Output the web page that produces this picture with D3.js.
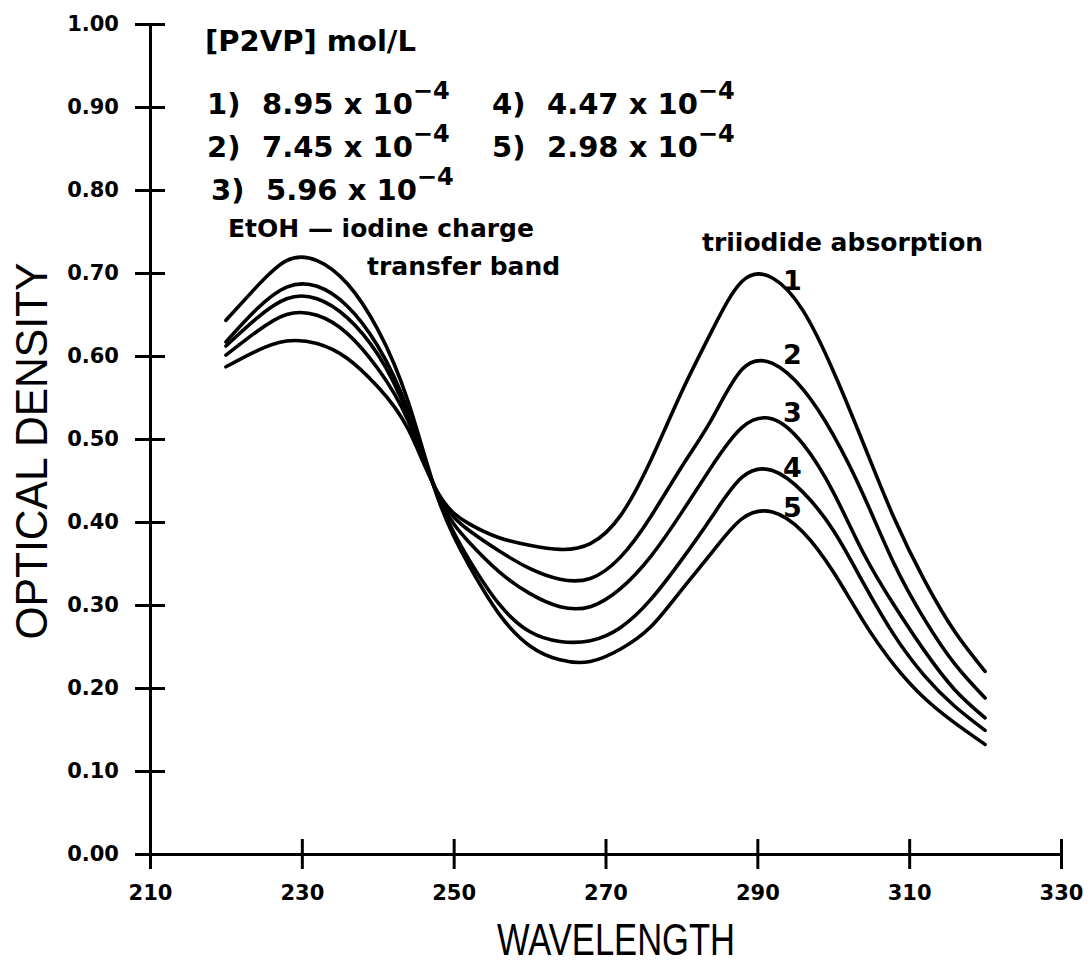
<!DOCTYPE html>
<html>
<head>
<meta charset="utf-8">
<script src="https://cdn.jsdelivr.net/npm/d3@7"></script>
<style>
  body { margin: 0; background: #fff; }
  .tick text { font-family: "DejaVu Sans", sans-serif; font-weight: bold; font-size: 21px; fill: #000; }
  .note { font-family: "DejaVu Sans", sans-serif; font-weight: bold; font-size: 25px; fill: #000; }
  .legend { font-family: "DejaVu Sans", sans-serif; font-weight: bold; font-size: 29px; fill: #000; }
  .title { font-family: "Liberation Sans", Arial, sans-serif; font-size: 44px; fill: #000; }
</style>
</head>
<body>
<div id="chart"></div>
<script>
// wavelength (nm) sample points shared by all curves, every 4 nm
var wavelengths = [220, 224, 228, 232, 236, 240, 244, 248, 252, 256, 260, 264, 268,
  272, 276, 280, 284, 288, 292, 296, 300, 304, 308, 312, 316, 320];

// optical density, one array per P2VP concentration
var curve1 = [0.587, 0.606, 0.618, 0.615, 0.597, 0.563, 0.512, 0.434, 0.398, 0.381, 0.372, 0.367, 0.374,
  0.408, 0.475, 0.556, 0.630, 0.690, 0.694, 0.655, 0.582, 0.494, 0.405, 0.330, 0.268, 0.220];
var curve2 = [0.601, 0.629, 0.650, 0.649, 0.627, 0.585, 0.522, 0.433, 0.390, 0.365, 0.344, 0.331, 0.332,
  0.358, 0.407, 0.466, 0.524, 0.584, 0.591, 0.560, 0.505, 0.432, 0.350, 0.283, 0.229, 0.188];
var curve3 = [0.612, 0.645, 0.669, 0.669, 0.646, 0.602, 0.528, 0.430, 0.376, 0.340, 0.314, 0.298, 0.298,
  0.320, 0.359, 0.411, 0.467, 0.514, 0.524, 0.494, 0.436, 0.362, 0.300, 0.245, 0.198, 0.164];
var curve4 = [0.617, 0.656, 0.683, 0.684, 0.660, 0.612, 0.534, 0.428, 0.355, 0.301, 0.268, 0.256, 0.257,
  0.273, 0.307, 0.354, 0.406, 0.454, 0.462, 0.436, 0.390, 0.326, 0.264, 0.215, 0.178, 0.149];
var curve5 = [0.643, 0.683, 0.715, 0.715, 0.687, 0.632, 0.545, 0.427, 0.348, 0.289, 0.251, 0.234, 0.232,
  0.247, 0.274, 0.318, 0.363, 0.404, 0.412, 0.388, 0.340, 0.280, 0.228, 0.188, 0.158, 0.132];

var curveNames = ["1", "2", "3", "4", "5"];
var concentrations = ["8.95", "7.45", "5.96", "4.47", "2.98"];
var exponent = "\u22124";
// where the curve numbers sit (wavelength, density)
var labelWave = 294.5;
var labelDensity = [0.680, 0.590, 0.520, 0.454, 0.406];

var xTicks = [210, 230, 250, 270, 290, 310, 330];
var yTicks = [0, 0.1, 0.2, 0.3, 0.4, 0.5, 0.6, 0.7, 0.8, 0.9, 1.0];

var width = 1089;
var height = 963;

var xScale = d3.scaleLinear().domain([210, 330]).range([150, 1061]);
var yScale = d3.scaleLinear().domain([0, 1]).range([854, 24]);

var svg = d3.select("#chart").append("svg")
  .attr("width", width)
  .attr("height", height);

// axes, ticks crossing the line on both sides
var yAxis = d3.axisLeft(yScale)
  .tickValues(yTicks)
  .tickFormat(d3.format(".2f"))
  .tickSizeInner(15)
  .tickSizeOuter(0)
  .tickPadding(16);

var xAxis = d3.axisBottom(xScale)
  .tickValues(xTicks)
  .tickFormat(d3.format("d"))
  .tickSizeInner(15)
  .tickSizeOuter(0)
  .tickPadding(16);

var yAxisG = svg.append("g")
  .attr("transform", "translate(" + xScale(210) + ",0)")
  .call(yAxis);
yAxisG.selectAll(".tick line").attr("x1", 15);

var xAxisG = svg.append("g")
  .attr("transform", "translate(0," + yScale(0) + ")")
  .call(xAxis);
xAxisG.selectAll(".tick line").attr("y1", -15);

svg.selectAll(".domain, .tick line")
  .attr("stroke", "#000")
  .attr("stroke-width", 3);

// curves
var series = [curve1, curve2, curve3, curve4, curve5];

var line = d3.line()
  .x(function(d, i) { return xScale(wavelengths[i]); })
  .y(function(d) { return yScale(d); })
  .curve(d3.curveNatural);

svg.selectAll(".curve")
  .data(series)
  .enter().append("path")
  .attr("class", "curve")
  .attr("d", line)
  .attr("fill", "none")
  .attr("stroke", "#000")
  .attr("stroke-width", 3.6)
  .attr("stroke-linecap", "round")
  .attr("stroke-linejoin", "round");

// curve numbers
svg.selectAll(".curve-label")
  .data(curveNames)
  .enter().append("text")
  .attr("class", "note")
  .style("font-size", "27px")
  .attr("text-anchor", "middle")
  .attr("x", xScale(labelWave) + 1)
  .attr("y", function(d, i) { return yScale(labelDensity[i]); })
  .text(function(d) { return d; });

// legend
svg.append("text")
  .attr("class", "legend")
  .attr("x", 205)
  .attr("y", 51)
  .text("[P2VP] mol/L");

var legend = svg.selectAll(".legend-item")
  .data(concentrations)
  .enter().append("g")
  .attr("class", "legend-item")
  .attr("transform", function(d, i) {
    var col = i < 3 ? 0 : 1;
    var row = i < 3 ? i : i - 3;
    var x = col === 0 ? (row === 2 ? 211 : 207) : 492;
    return "translate(" + x + "," + (114 + row * 43) + ")";
  });

legend.append("text")
  .attr("class", "legend")
  .text(function(d, i) { return curveNames[i] + ")"; });

var valueText = legend.append("text")
  .attr("class", "legend")
  .attr("x", 55);
valueText.append("tspan")
  .text(function(d) { return d + " x 10"; });
valueText.append("tspan")
  .attr("dy", -15)
  .style("font-size", "24px")
  .text(exponent);

// band annotations
svg.append("text")
  .attr("class", "note")
  .attr("x", 228)
  .attr("y", 237)
  .text("EtOH \u2014 iodine charge");

svg.append("text")
  .attr("class", "note")
  .attr("x", 367)
  .attr("y", 275)
  .text("transfer band");

svg.append("text")
  .attr("class", "note")
  .attr("x", 702)
  .attr("y", 251)
  .text("triiodide absorption");

// axis titles
svg.append("text")
  .attr("class", "title")
  .attr("text-anchor", "middle")
  .attr("textLength", 377)
  .attr("lengthAdjust", "spacingAndGlyphs")
  .attr("transform", "translate(47,451) rotate(-90)")
  .text("OPTICAL DENSITY");

svg.append("text")
  .attr("class", "title")
  .attr("text-anchor", "middle")
  .attr("textLength", 238)
  .attr("lengthAdjust", "spacingAndGlyphs")
  .attr("x", 616)
  .attr("y", 955)
  .text("WAVELENGTH");
</script>
</body>
</html>
